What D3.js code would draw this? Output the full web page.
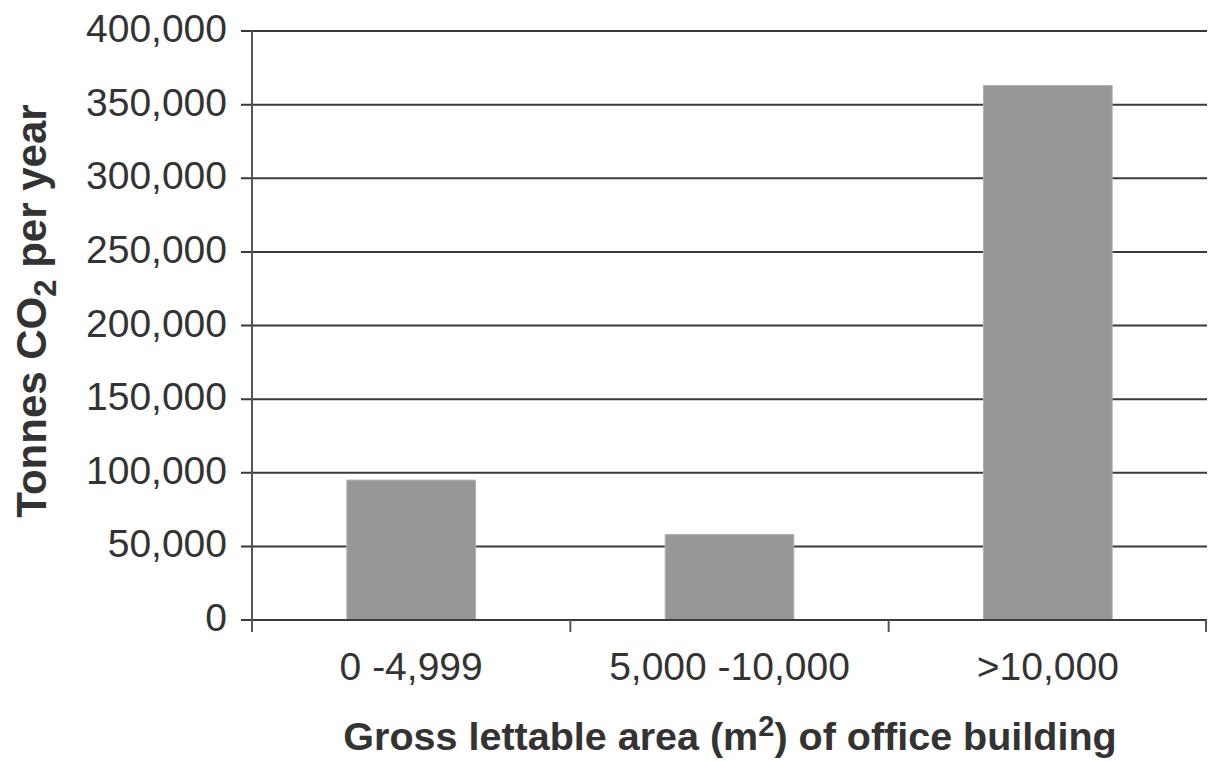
<!DOCTYPE html>
<html>
<head>
<meta charset="utf-8">
<script src="https://cdn.jsdelivr.net/npm/d3@7"></script>
<style>
  html, body { margin: 0; padding: 0; background: #fff; }
  svg { display: block; }
  text { font-family: "Liberation Sans", Arial, sans-serif; fill: #333; }
</style>
</head>
<body>
<svg id="chart" width="1209" height="761"></svg>
<script>
// Annual CO2 emissions by office building size
const categories = ["0 -4,999", "5,000 -10,000", ">10,000"];
const emissions = [95000, 58000, 363000];
const yTicks = [0, 50000, 100000, 150000, 200000, 250000, 300000, 350000, 400000];

const svg = d3.select("#chart");
const margin = { left: 252, right: 2, top: 31, bottom: 141 };
const W = 1209, H = 761;
const plotW = W - margin.left - margin.right;
const plotH = H - margin.top - margin.bottom;

const xBand = d3.scaleBand().domain(categories).range([0, plotW]);
const y = d3.scaleLinear().domain([0, 400000]).range([plotH, 0]);
const barW = xBand.bandwidth() * 0.404;

const g = svg.append("g").attr("transform", `translate(${margin.left},${margin.top})`);

// horizontal gridlines
g.append("g").selectAll("line").data(yTicks).join("line")
  .attr("x1", -11).attr("x2", plotW)
  .attr("y1", d => y(d)).attr("y2", d => y(d))
  .attr("stroke", "#3a3a3a").attr("stroke-width", 2);

// bars
g.append("g").selectAll("rect").data(categories).join("rect")
  .attr("x", d => xBand(d) + (xBand.bandwidth() - barW) / 2)
  .attr("width", barW)
  .attr("y", (d, i) => y(emissions[i]))
  .attr("height", (d, i) => plotH - y(emissions[i]))
  .attr("fill", "#979797")
  .attr("stroke", "#b0b0b0").attr("stroke-width", 1);

// baseline drawn over the bars
g.append("line").attr("x1", -11).attr("x2", plotW)
  .attr("y1", y(0)).attr("y2", y(0))
  .attr("stroke", "#3a3a3a").attr("stroke-width", 2);

// y axis line
g.append("line").attr("x1", 0).attr("x2", 0)
  .attr("y1", 0).attr("y2", plotH + 12)
  .attr("stroke", "#555").attr("stroke-width", 2);

// y tick labels
const fmt = d3.format(",");
g.append("g").selectAll("text").data(yTicks).join("text")
  .attr("x", -25).attr("y", d => y(d) + 11)
  .attr("text-anchor", "end")
  .attr("font-size", 39)
  .text(d => fmt(d));

// x ticks at band boundaries
const bounds = categories.slice(1).map(c => xBand(c)).concat([plotW - 1]);
g.append("g").selectAll("line").data(bounds).join("line")
  .attr("x1", d => d).attr("x2", d => d)
  .attr("y1", plotH).attr("y2", plotH + 12)
  .attr("stroke", "#555").attr("stroke-width", 2);

// x category labels
g.append("g").selectAll("text").data(categories).join("text")
  .attr("x", d => xBand(d) + xBand.bandwidth() / 2)
  .attr("y", plotH + 60)
  .attr("text-anchor", "middle")
  .attr("font-size", 39)
  .text(d => d);

// x axis title
const xt = svg.append("text")
  .attr("x", 730).attr("y", 750)
  .attr("text-anchor", "middle")
  .attr("font-size", 39.5).attr("font-weight", "bold");
xt.append("tspan").text("Gross lettable area (m");
xt.append("tspan").attr("dy", -14).attr("font-size", 29).text("2");
xt.append("tspan").attr("dy", 14).text(") of office building");

// y axis title
const yt = svg.append("text")
  .attr("transform", "translate(46,311) rotate(-90)")
  .attr("text-anchor", "middle")
  .attr("font-size", 42).attr("font-weight", "bold");
yt.append("tspan").text("Tonnes CO");
yt.append("tspan").attr("dy", 10).attr("font-size", 31).text("2");
yt.append("tspan").attr("dy", -10).text(" per year");
</script>
</body>
</html>
